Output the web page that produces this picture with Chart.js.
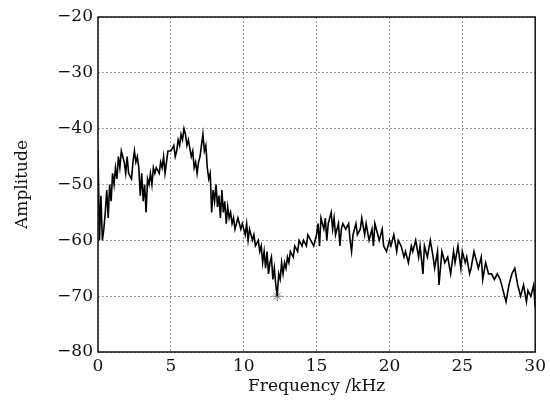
<!DOCTYPE html>
<html lang="en">
<head>
    <meta charset="UTF-8">
    <title>Amplitude spectrum</title>
    <style>
        body { margin: 0; background: #fff; }
        .wrap { width: 550px; height: 403px; }
    </style>
</head>
<body>
<div class="wrap"><canvas id="spec" width="550" height="403"></canvas></div>

<script src="https://cdn.jsdelivr.net/npm/chart.js"></script>
<script>
    // spectrum (kHz, amplitude)
    const freq = [
        0.0, 0.1, 0.2, 0.3, 0.4, 0.5, 0.6, 0.7, 0.8, 0.9, 1.0, 1.1, 1.2, 1.3, 1.4, 1.5, 1.6, 1.8, 1.9, 2.0,
        2.1, 2.3, 2.4, 2.5, 2.6, 2.7, 2.8, 2.9, 3.0, 3.1, 3.2, 3.3, 3.4, 3.5, 3.6, 3.7, 3.8, 3.9, 4.0, 4.2,
        4.3, 4.4, 4.5, 4.6, 4.7, 4.8, 5.0, 5.2, 5.3, 5.4, 5.5, 5.6, 5.7, 5.8, 5.9, 6.0, 6.1, 6.2, 6.4, 6.5,
        6.6, 6.7, 6.8, 6.9, 7.0, 7.1, 7.2, 7.3, 7.4, 7.5, 7.6, 7.7, 7.8, 7.9, 8.0, 8.1, 8.2, 8.3, 8.4, 8.5,
        8.6, 8.7, 8.8, 8.9, 9.0, 9.1, 9.2, 9.3, 9.4, 9.5, 9.6, 9.8, 9.9, 10.0, 10.1, 10.2, 10.3, 10.4, 10.6, 10.7,
        10.8, 11.0, 11.1, 11.2, 11.3, 11.4, 11.5, 11.6, 11.7, 11.8, 11.9, 12.0, 12.1, 12.2, 12.3, 12.4, 12.5, 12.6, 12.7, 12.8,
        12.9, 13.0, 13.1, 13.2, 13.4, 13.5, 13.7, 13.8, 14.0, 14.1, 14.3, 14.4, 14.6, 14.8, 15.0, 15.1, 15.2, 15.3, 15.5, 15.6,
        15.7, 15.8, 16.0, 16.1, 16.2, 16.3, 16.5, 16.6, 16.7, 16.8, 17.0, 17.2, 17.3, 17.4, 17.5, 17.7, 17.8, 18.0, 18.1, 18.3,
        18.4, 18.6, 18.8, 18.9, 19.0, 19.2, 19.3, 19.5, 19.6, 19.8, 20.0, 20.1, 20.3, 20.5, 20.6, 20.8, 21.0, 21.1, 21.3, 21.5,
        21.6, 21.8, 22.0, 22.1, 22.3, 22.4, 22.6, 22.8, 23.0, 23.1, 23.3, 23.4, 23.6, 23.8, 24.0, 24.2, 24.4, 24.5, 24.7, 24.9,
        25.0, 25.2, 25.3, 25.5, 25.6, 25.8, 26.0, 26.1, 26.3, 26.4, 26.6, 26.8, 27.0, 27.2, 27.4, 27.6, 27.8, 28.0, 28.2, 28.4,
        28.6, 28.8, 29.0, 29.2, 29.4, 29.5, 29.7, 29.9, 30.0
    ];
    const amp = [
        -44, -60, -52, -60, -58, -55, -51, -56, -50, -53, -48, -50, -47, -49, -45, -47, -44, -46, -48, -45,
        -48, -49, -46, -44, -46, -45, -47, -52, -48, -53, -50, -55, -49, -50, -48, -50, -47, -48, -47, -48,
        -46, -47, -45, -48, -46, -44, -44, -43, -45, -44, -42, -43, -41, -42, -40, -41, -43, -42, -45, -44,
        -47, -46, -48, -46, -45, -43, -41, -44, -43, -47, -49, -48, -55, -51, -53, -50, -54, -52, -56, -51,
        -55, -53, -57, -54, -56, -55, -57, -56, -58, -57, -56, -58, -57, -58, -59, -57, -60, -58, -60, -59,
        -61, -60, -62, -61, -64, -62, -65, -62, -66, -64, -63, -67, -65, -68, -70, -66, -67, -64, -66, -64,
        -65, -63, -64, -62, -63, -61, -62, -60, -61, -60, -61, -59, -60, -61, -59, -57, -61, -56, -58, -56,
        -60, -57, -55, -58, -56, -59, -57, -61, -58, -57, -58, -57, -60, -62, -59, -57, -59, -58, -56, -59,
        -57, -60, -58, -61, -57, -59, -60, -58, -61, -62, -60, -61, -59, -62, -60, -61, -63, -62, -64, -61,
        -62, -60, -63, -61, -66, -61, -63, -60, -63, -65, -62, -68, -62, -64, -63, -66, -62, -64, -61, -65,
        -62, -64, -63, -66, -65, -62, -64, -65, -63, -67, -64, -66, -66, -67, -66, -67, -69, -71, -68, -66,
        -65, -68, -70, -68, -71, -69, -70, -68, -72
    ];
    // marked minimum
    const markFreq = [12.3];
    const markAmp = [-70];

    const xTicks = [0, 5, 10, 15, 20, 25, 30];
    const yTicks = [-80, -70, -60, -50, -40, -30, -20];

    const serif = "'DejaVu Serif', 'Liberation Serif', serif";

    // frame round the plot area
    const framePlugin = {
        id: 'frame',
        afterDatasetsDraw(chart) {
            const a = chart.chartArea, c = chart.ctx;
            c.save();
            c.strokeStyle = '#111';
            c.lineWidth = 1.5;
            c.strokeRect(a.left, a.top, a.right - a.left, a.bottom - a.top);
            c.restore();
        }
    };

    new Chart(document.getElementById('spec'), {
        type: 'scatter',
        data: {
            datasets: [{
                data: freq.map((f, i) => ({ x: f, y: amp[i] })),
                showLine: true,
                borderColor: '#000',
                borderWidth: 1.6,
                pointRadius: 0,
                tension: 0
            }, {
                data: markFreq.map((f, i) => ({ x: f, y: markAmp[i] })),
                pointStyle: 'star',
                pointRadius: 5,
                borderColor: '#777',
                borderWidth: 1,
                backgroundColor: '#777'
            }]
        },
        options: {
            responsive: false,
            animation: false,
            layout: { padding: { top: 17, right: 13, left: 0, bottom: 6 } },
            plugins: { legend: { display: false }, tooltip: { enabled: false } },
            scales: {
                x: {
                    type: 'linear', min: 0, max: 30,
                    afterBuildTicks: s => { s.ticks = xTicks.map(v => ({ value: v })); },
                    afterFit: s => { s.height = 45; },
                    grid: { color: '#999', lineWidth: 1, drawTicks: false },
                    border: { display: false, dash: [2, 2] },
                    ticks: { color: '#111', padding: 4, font: { family: serif, size: 17 } },
                    title: { display: true, text: 'Frequency /kHz', color: '#111', padding: { top: 0, bottom: 0 }, font: { family: serif, size: 17 } }
                },
                y: {
                    min: -80, max: -20,
                    afterBuildTicks: s => { s.ticks = yTicks.map(v => ({ value: v })); },
                    afterFit: s => { s.width = 98; },
                    grid: { color: '#999', lineWidth: 1, drawTicks: false },
                    border: { display: false, dash: [2, 2] },
                    ticks: { color: '#111', padding: 5, font: { family: serif, size: 17 },
                        callback: v => String(v).replace('-', '\u2212') },
                    title: { display: true, text: 'Amplitude', color: '#111', padding: { top: 12, bottom: 4 }, font: { family: serif, size: 17 } }
                }
            }
        },
        plugins: [framePlugin]
    });
</script>
</body>
</html>
